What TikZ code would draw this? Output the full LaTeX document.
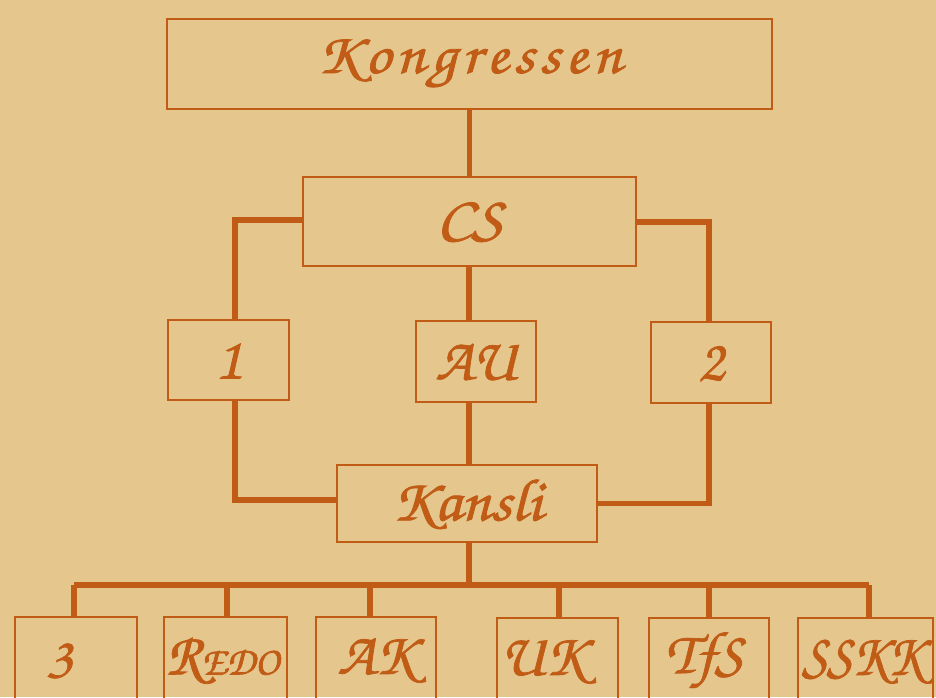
\documentclass[tikz,border=0pt]{standalone}
\usepackage[T1]{fontenc}
\definecolor{paper}{HTML}{E5C68D}
\definecolor{ink}{HTML}{C05C16}
\newcommand{\chanc}{\fontfamily{pzc}\fontseries{mb}\fontshape{it}\selectfont}
\newcommand{\widen}[2]{\scalebox{#1}[1]{#2}}
\tikzset{
  box/.style={draw=ink, line width=2.3pt, inner sep=0pt, text=ink,
    font=\chanc\fontsize{60}{60}\selectfont,
    execute at begin node={\special{pdf:literal direct 2 Tr 0.75 w}},
    execute at end node={\special{pdf:literal direct 0 Tr}}},
  conn/.style={draw=ink, line width=5.6pt, line cap=butt, line join=miter},
}
\begin{document}
\begin{tikzpicture}[x=1pt,y=-1pt]
\clip (0,0) rectangle (936,697);
\fill[paper] (0,0) rectangle (936,697);
% boxes
\node[box, minimum width=605, minimum height=90, font=\chanc\fontsize{58}{58}\selectfont] (kong) at (469.5,64)
  {\widen{1.1}{K\kern5pt o\kern5pt n\kern5pt g\kern5pt r\kern5pt e\kern5pt s\kern5pt s\kern5pt e\kern5pt n}};
\node[box, minimum width=333, minimum height=89] (cs) at (469.5,221.5) {\widen{1.12}{CS}};
\node[box, minimum width=121, minimum height=80] (b1) at (228.5,360) {1};
\node[box, minimum width=120, minimum height=81] (au) at (476,361.5) {AU};
\node[box, minimum width=120, minimum height=81] (b2) at (711,362.5) {2};
\node[box, minimum width=260, minimum height=77] (kansli) at (467,503.5) {\widen{1.07}{Kansli}};
\node[box, minimum width=122, minimum height=86] (b3) at (76,660) {\hspace*{-34pt}3};
\node[box, minimum width=123, minimum height=86] (redo) at (225.5,660) {\hspace*{-6pt}R{\fontsize{40}{40}\selectfont EDO}};
\node[box, minimum width=120, minimum height=86] (ak) at (376,660) {AK};
\node[box, minimum width=121, minimum height=86] (uk) at (557.5,661) {\hspace*{-30pt}UK};
\node[box, minimum width=120, minimum height=86] (tfs) at (709,661) {\hspace*{-10pt}TfS};
\node[box, minimum width=135, minimum height=86] (sskk) at (865.5,661) {\hspace*{-6pt}\widen{0.9}{SSKK}};
\coordinate (bus) at (469,585);
% connectors
\draw[conn] (kong.south -| cs.north) -- (cs.north);
\draw[conn] (cs.south -| 469,0) -- (au.north -| 469,0);
\draw[conn] ([yshift=1.5]cs.west) -| ([xshift=6.5]b1.north);
\draw[conn] ([yshift=-0.5]cs.east) -| ([xshift=-2]b2.north);
\draw[conn] ([xshift=6.5]b1.south) |- ([yshift=3.5]kansli.west);
\draw[conn] ([xshift=-2]b2.south) |- (kansli.east);
\draw[conn] (au.south -| 469,0) -- (kansli.north -| 469,0);
\draw[conn] (kansli.south -| 469,0) -- (bus);
\draw[conn] ([xshift=-2.3]b3.north |- bus) -- ([xshift=3.5]sskk.north |- bus);
\draw[conn] ([xshift=-2]b3.north |- bus) -- ([xshift=-2]b3.north);
\draw[conn] ([xshift=1.5]redo.north |- bus) -- ([xshift=1.5]redo.north);
\draw[conn] ([xshift=-6]ak.north |- bus) -- ([xshift=-6]ak.north);
\draw[conn] ([xshift=1.5]uk.north |- bus) -- ([xshift=1.5]uk.north);
\draw[conn] (tfs.north |- bus) -- (tfs.north);
\draw[conn] ([xshift=3.5]sskk.north |- bus) -- ([xshift=3.5]sskk.north);
\end{tikzpicture}
\end{document}
